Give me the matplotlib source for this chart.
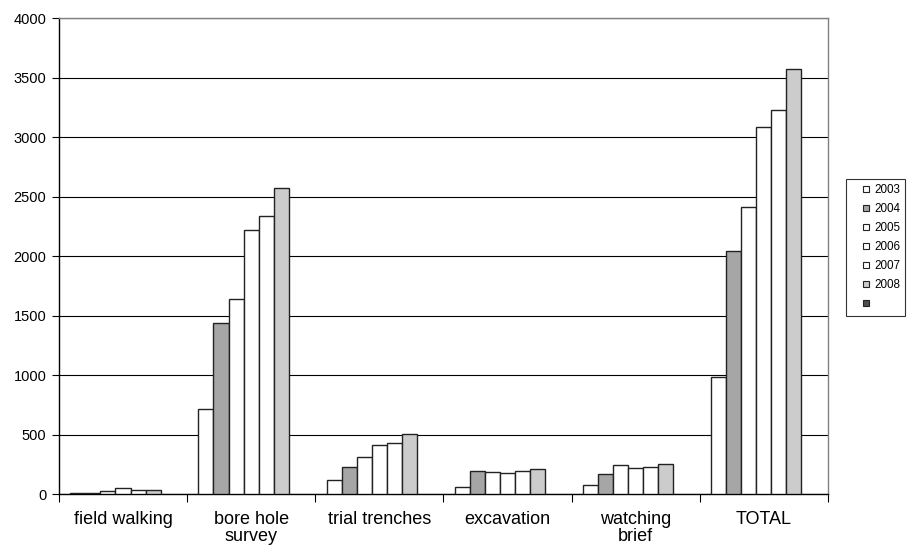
import matplotlib.pyplot as plt
import numpy as np
from matplotlib.lines import Line2D

plt.rcParams["font.family"] = "Liberation Sans"

categories = ["field walking", "bore hole\nsurvey", "trial trenches", "excavation",
              "watching\nbrief", "TOTAL"]
years = ["2003", "2004", "2005", "2006", "2007", "2008", ""]

v2003 = [5, 712, 115, 62, 78, 980]
v2004 = [12, 1434, 224, 193, 170, 2044]
v2005 = [28, 1640, 311, 185, 240, 2409]
v2006 = [50, 2220, 409, 176, 215, 3081]
v2007 = [33, 2335, 429, 193, 225, 3227]
v2008 = [33, 2570, 507, 207, 250, 3574]
v_blank = [np.nan] * 6  # empty series, only shows up in the legend

series = [v2003, v2004, v2005, v2006, v2007, v2008, v_blank]
colors = ["white", "#a6a6a6", "white", "white", "white", "#cccccc", "#4d4d4d"]

fig = plt.figure(figsize=(9.17, 5.56), dpi=100)
ax = fig.add_axes([0.0643, 0.1115, 0.9027 - 0.0643, 0.9676 - 0.1115])

nser = len(series)
w = 1.0 / (nser + 1.5)
x = np.arange(len(categories))
for j, vals in enumerate(series):
    left = x + 0.75 * w + j * w
    ax.bar(left, vals, width=w, align="edge", color=colors[j],
           edgecolor="#222222", linewidth=1.0, zorder=3)

ax.set_xlim(0, len(categories))
ax.set_ylim(0, 4000)
ax.set_yticks(np.arange(0, 4001, 500))
ax.yaxis.grid(True, color="black", linewidth=0.8, zorder=0)
ax.tick_params(axis="y", labelsize=10.5, length=5, width=0.8, direction="out", pad=4)

ax.set_xticks(np.arange(len(categories) + 1))
ax.set_xticklabels([])
ax.set_xticks(x + 0.5, minor=True)
ax.set_xticklabels(categories, minor=True, fontsize=13, linespacing=1.0)
ax.tick_params(axis="x", which="major", length=6, width=0.8, direction="out")
ax.tick_params(axis="x", which="minor", length=0, pad=12)

for side in ["left", "bottom"]:
    ax.spines[side].set_color("black")
    ax.spines[side].set_linewidth(1.0)
for side in ["top", "right"]:
    ax.spines[side].set_color("#808080")
    ax.spines[side].set_linewidth(1.0)

# square swatches, centred in a wide handle to leave space on the left
handles = [Line2D([], [], linestyle="none", marker="s", markersize=4.6,
                  markerfacecolor=c, markeredgecolor="#222222", markeredgewidth=0.8)
           for c in colors]
leg = fig.legend(handles, years, loc="upper left", bbox_to_anchor=(846 / 917, 1 - 179 / 556),
                 fontsize=8.4, frameon=True, fancybox=False, handlelength=2.5,
                 handletextpad=-0.55, labelspacing=0.6,
                 borderpad=0.45, borderaxespad=0)
leg.get_frame().set_edgecolor("black")
leg.get_frame().set_linewidth(0.8)

fig.savefig("out.png", dpi=100)
